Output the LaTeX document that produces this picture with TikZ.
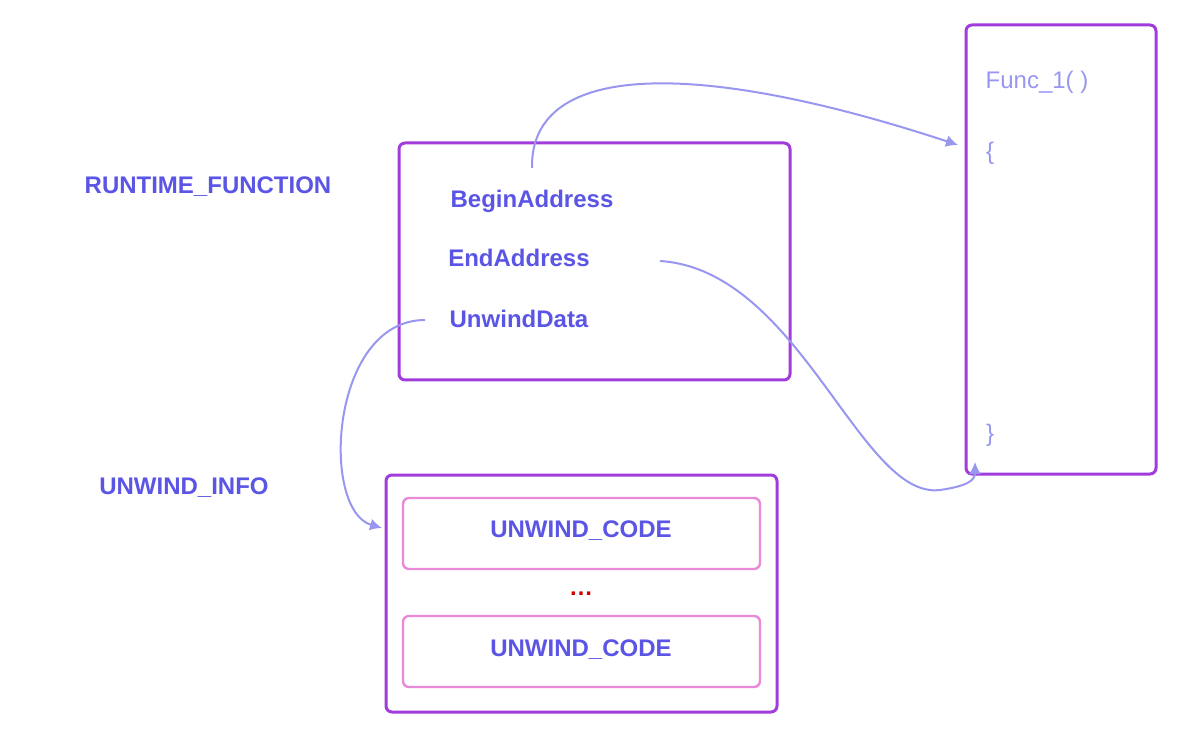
\documentclass[tikz,border=0pt]{standalone}
\usepackage{fontspec}
\setmainfont{Liberation Sans}
\usetikzlibrary{arrows.meta}
\definecolor{boxpurple}{HTML}{A23BDB}
\definecolor{labblue}{HTML}{5B55E6}
\definecolor{arrowblue}{HTML}{9896F0}
\definecolor{codepink}{HTML}{E98AD8}
\tikzset{
  frame/.style={draw=boxpurple,line width=1.5pt,rounded corners=3pt},
  codebox/.style={draw=codepink,line width=1.2pt,rounded corners=3pt},
  lab/.style={text=labblue,font=\fontsize{12}{14}\selectfont\bfseries},
  funtext/.style={text=arrowblue,font=\fontsize{12}{14}\selectfont},
  link/.style={draw=arrowblue,line width=1pt,-{Latex[length=6pt,width=6pt]}}
}
\begin{document}
\begin{tikzpicture}[x=0.5pt,y=-0.5pt]
  \useasboundingbox (0,0) rectangle (1200,743);
  %boxes
  \draw[frame] (399,143) rectangle (790,380);
  \draw[frame] (966,25) rectangle (1156,474);
  \draw[frame] (386,475) rectangle (777,712);
  \draw[codebox] (403,498) rectangle (760,569);
  \draw[codebox] (403,616) rectangle (760,687);

  %labels
  \node[lab] (rf) at (208,187) {RUNTIME\_FUNCTION};
  \node[lab] (ui) at (184,488) {UNWIND\_INFO};
  \node[lab] (begin) at (532,201) {BeginAddress};
  \node[lab] (end) at (519,258) {EndAddress};
  \node[lab] (unwind) at (519,319) {UnwindData};
  \node[lab] (code1) at (581,531) {UNWIND\_CODE};
  \node[lab] (code2) at (581,650) {UNWIND\_CODE};
  \node[text=red!80!black,font=\fontsize{12}{14}\selectfont\bfseries] (dots) at (581,594) {\dots};

  %function body
  \node[funtext] (func) at (1037,82) {Func\_1( )};
  \node[funtext] (open) at (990,153) {\{};
  \node[funtext] (close) at (990,435) {\}};

  %links
  \coordinate (b0) at (532,168);
  \coordinate (b1) at (958,145);
  \coordinate (e0) at (660,261);
  \coordinate (e1) at (975,462);
  \coordinate (u0) at (425,320);
  \coordinate (u1) at (382,528);
  \draw[link] (b0) .. controls (530,60) and (700,60) .. (b1);
  \draw[link] (e0) .. controls (800,270) and (860,500) .. (940,490) .. controls (968,486) and (975,480) .. (e1);
  \draw[link] (u0) .. controls (330,320) and (320,510) .. (u1);
\end{tikzpicture}
\end{document}
